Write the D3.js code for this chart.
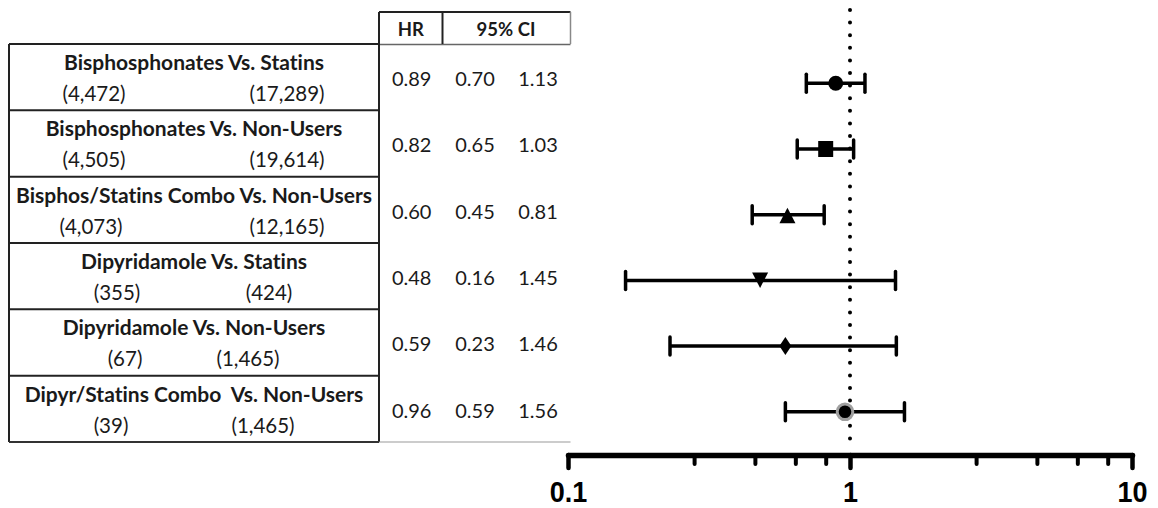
<!DOCTYPE html>
<html>
<head>
<meta charset="utf-8">
<script src="https://cdn.jsdelivr.net/npm/d3@7"></script>
<style>
  html, body { margin: 0; padding: 0; background: #fff; }
  svg { display: block; }
  .tbl { font-family: Lato, "Open Sans", sans-serif; fill: #1a1a1a; font-variant-ligatures: none; }
</style>
</head>
<body>
<svg id="chart" width="1158" height="508"></svg>
<script>
// ---- data ----
const comparisons = [
  "Bisphosphonates Vs. Statins",
  "Bisphosphonates Vs. Non-Users",
  "Bisphos/Statins Combo Vs. Non-Users",
  "Dipyridamole Vs. Statins",
  "Dipyridamole Vs. Non-Users",
  "Dipyr/Statins Combo  Vs. Non-Users"
];
const exposedN   = ["(4,472)", "(4,505)", "(4,073)", "(355)", "(67)", "(39)"];
const referenceN = ["(17,289)", "(19,614)", "(12,165)", "(424)", "(1,465)", "(1,465)"];
const hr      = [0.89, 0.82, 0.60, 0.48, 0.59, 0.96];
const ciLower = [0.70, 0.65, 0.45, 0.16, 0.23, 0.59];
const ciUpper = [1.13, 1.03, 0.81, 1.45, 1.46, 1.56];
const majorTicks = [0.1, 1, 10];
const minorTicks = [0.28, 0.46, 0.64, 0.82, 2.8, 4.6, 6.4, 8.2];

// ---- layout ----
const tableLeft = 9, tableRight = 379, headerTop = 12, bodyTop = 44, rowH = 66.33;
const hrColX = 442.5, tableEnd = 570.5;
const valueCols = [411.7, 475, 538];
const exposedX   = [94, 94, 91, 117, 125, 111];
const referenceX = [287, 287, 287, 269, 248, 263];
const markerTypes = ["circle", "square", "triangleUp", "triangleDown", "diamond", "ringed"];

const svg = d3.select("#chart");
const fmt2 = d3.format(".2f");
const rowsIdx = d3.range(comparisons.length);

// ---- table ----
const tbl = svg.append("g");
const line = (x1, y1, x2, y2, stroke, w) =>
  tbl.append("line").attr("x1", x1).attr("y1", y1).attr("x2", x2).attr("y2", y2)
     .attr("stroke", stroke).attr("stroke-width", w);

const bodyBottom = bodyTop + rowH * comparisons.length;
// header cells
line(tableRight, headerTop, tableEnd, headerTop, "#222", 2);
line(tableRight, bodyTop + 0.5, tableEnd, bodyTop + 0.5, "#666", 1.5);
line(hrColX, headerTop, hrColX, bodyTop, "#222", 2);
line(tableEnd, headerTop, tableEnd, bodyTop, "#888", 1.5);
// comparison rows
line(tableLeft, bodyTop, tableLeft, bodyBottom, "#222", 2);
line(tableRight, headerTop, tableRight, bodyBottom, "#222", 2);
rowsIdx.forEach(i => line(tableLeft, bodyTop + i * rowH, tableRight, bodyTop + i * rowH, "#222", 2));
line(tableLeft, bodyBottom, tableRight, bodyBottom, "#333", 2);
line(tableRight, bodyBottom, tableEnd, bodyBottom, "#999", 1.2);

tbl.append("text").attr("class", "tbl").attr("x", 410.8).attr("y", 36)
  .attr("text-anchor", "middle").attr("font-weight", 700).attr("font-size", 18.5).text("HR");
tbl.append("text").attr("class", "tbl").attr("x", 506).attr("y", 36)
  .attr("text-anchor", "middle").attr("font-weight", 700).attr("font-size", 18.5).text("95% CI");

const rowsG = tbl.selectAll("g.row").data(rowsIdx).join("g")
  .attr("class", "row")
  .attr("transform", i => `translate(0,${bodyTop + i * rowH})`);

rowsG.append("text").attr("class", "tbl")
  .attr("x", (tableLeft + tableRight) / 2).attr("y", 26)
  .attr("text-anchor", "middle").attr("font-weight", 700).attr("font-size", 21)
  .style("white-space", "pre")
  .text(i => comparisons[i]);
rowsG.append("text").attr("class", "tbl")
  .attr("x", i => exposedX[i]).attr("y", 57)
  .attr("text-anchor", "middle").attr("font-size", 20.5)
  .text(i => exposedN[i]);
rowsG.append("text").attr("class", "tbl")
  .attr("x", i => referenceX[i]).attr("y", 57)
  .attr("text-anchor", "middle").attr("font-size", 20.5)
  .text(i => referenceN[i]);

rowsG.each(function (i) {
  const g = d3.select(this);
  [hr[i], ciLower[i], ciUpper[i]].forEach((v, k) => {
    g.append("text").attr("class", "tbl")
      .attr("x", valueCols[k]).attr("y", rowH / 2 + 9)
      .attr("text-anchor", "middle").attr("font-size", 20)
      .text(fmt2(v));
  });
});

// ---- forest plot ----
const x = d3.scaleLog().domain([0.1, 10]).range([568, 1132]);
const y = d3.scalePoint().domain(rowsIdx).range([83.3, 411.8]);
const axisY = 455;

// reference line at HR = 1
svg.append("line")
  .attr("x1", x(1)).attr("x2", x(1)).attr("y1", 10).attr("y2", axisY - 4)
  .attr("stroke", "#000").attr("stroke-width", 4)
  .attr("stroke-linecap", "round").attr("stroke-dasharray", "0 12.6");

const plot = svg.append("g");
const ci = plot.selectAll("g.ci").data(rowsIdx).join("g")
  .attr("class", "ci")
  .attr("transform", i => `translate(0,${y(i)})`);

ci.append("line")
  .attr("x1", i => x(ciLower[i])).attr("x2", i => x(ciUpper[i]))
  .attr("stroke", "#000").attr("stroke-width", 3.5);
ci.append("line")
  .attr("x1", i => x(ciLower[i])).attr("x2", i => x(ciLower[i]))
  .attr("y1", -9).attr("y2", 9)
  .attr("stroke", "#000").attr("stroke-width", 3.5).attr("stroke-linecap", "round");
ci.append("line")
  .attr("x1", i => x(ciUpper[i])).attr("x2", i => x(ciUpper[i]))
  .attr("y1", -9).attr("y2", 9)
  .attr("stroke", "#000").attr("stroke-width", 3.5).attr("stroke-linecap", "round");

// marker shapes, each drawn around the point estimate
const shapes = {
  circle: { draw(c) { c.arc(0, 0, 7.5, 0, 2 * Math.PI); } },
  square: { draw(c) { c.rect(-7.5, -8, 15, 16); } },
  triangleUp: { draw(c) { c.moveTo(0, -7); c.lineTo(8, 8.5); c.lineTo(-8, 8.5); c.closePath(); } },
  triangleDown: { draw(c) { c.moveTo(-8, -8); c.lineTo(8, -8); c.lineTo(0, 7.5); c.closePath(); } },
  diamond: { draw(c) { c.moveTo(0, -9); c.lineTo(6, 0); c.lineTo(0, 9); c.lineTo(-6, 0); c.closePath(); } }
};

ci.filter(i => markerTypes[i] === "ringed").append("circle")
  .attr("cx", i => x(hr[i])).attr("r", 7.8)
  .attr("fill", "#000").attr("stroke", "#a0a0a0").attr("stroke-width", 3);
ci.filter(i => markerTypes[i] !== "ringed").append("path")
  .attr("transform", i => `translate(${x(hr[i])},0)`)
  .attr("d", i => d3.symbol(shapes[markerTypes[i]])())
  .attr("fill", "#000");

// x axis (log scale)
const axisG = svg.append("g").attr("transform", `translate(0,${axisY})`);
const minorG = axisG.append("g")
  .call(d3.axisBottom(x).tickValues(minorTicks).tickSize(9).tickSizeOuter(0).tickFormat(""));
minorG.select(".domain").remove();
minorG.selectAll(".tick line").attr("stroke", "#000").attr("stroke-width", 4).attr("stroke-linecap", "round");

const majorG = axisG.append("g")
  .call(d3.axisBottom(x).tickValues(majorTicks).tickSize(13).tickSizeOuter(0)
    .tickFormat(d => String(d)));
majorG.select(".domain").attr("stroke", "#000").attr("stroke-width", 5.5).attr("stroke-linecap", "round");
majorG.selectAll(".tick line").attr("stroke", "#000").attr("stroke-width", 4.5).attr("stroke-linecap", "round");
majorG.selectAll(".tick text")
  .attr("y", 47).attr("dy", null)
  .attr("transform", "scale(0.9,1)")
  .attr("fill", "#000")
  .style("font-family", '"Liberation Sans", Arial, sans-serif')
  .style("font-weight", 700).style("font-size", "30px");
</script>
</body>
</html>
